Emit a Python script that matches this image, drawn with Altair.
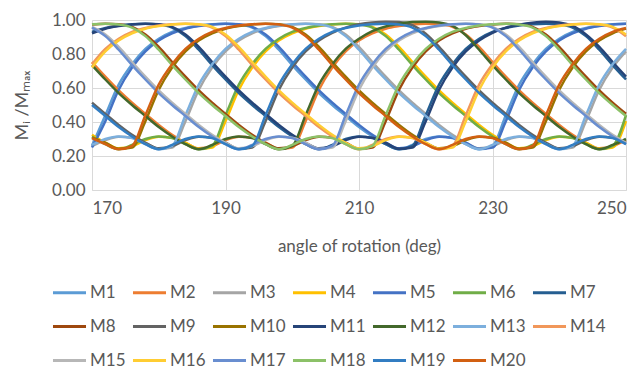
import altair as alt
import pandas as pd

# Sample angles (deg) shared by every series
angles = list(range(170, 252, 2))

series_names = [f"M{i}" for i in range(1, 21)]
series_colors = [
    "#5B9BD5", "#ED7D31", "#A5A5A5", "#FFC000", "#4472C4", "#70AD47", "#255E91",
    "#9E480E", "#636363", "#997300", "#264478", "#43682B", "#7CAFDD", "#F1975A",
    "#B7B7B7", "#FFCD33", "#698ED0", "#8CC168", "#327DC2", "#D26012",
]

# Mi/Mmax for each series at the sample angles
m1 = [0.26, 0.44, 0.62, 0.74, 0.83, 0.89, 0.93, 0.953, 0.967, 0.975, 0.978, 0.973, 0.955, 0.905, 0.825, 0.735, 0.65, 0.57, 0.50, 0.435, 0.37, 0.315, 0.27, 0.24, 0.265, 0.30, 0.315, 0.305, 0.27, 0.24, 0.26, 0.44, 0.62, 0.74, 0.83, 0.89, 0.93, 0.953, 0.967, 0.975, 0.978]
m2 = [0.753, 0.667, 0.586, 0.514, 0.448, 0.383, 0.325, 0.278, 0.245, 0.258, 0.293, 0.313, 0.308, 0.278, 0.242, 0.25, 0.405, 0.59, 0.72, 0.815, 0.88, 0.922, 0.949, 0.964, 0.974, 0.978, 0.975, 0.96, 0.915, 0.842, 0.753, 0.667, 0.586, 0.514, 0.448, 0.383, 0.325, 0.278, 0.245, 0.258, 0.293]
m3 = [0.258, 0.293, 0.313, 0.308, 0.278, 0.242, 0.25, 0.405, 0.59, 0.72, 0.815, 0.88, 0.922, 0.949, 0.964, 0.974, 0.978, 0.975, 0.96, 0.915, 0.842, 0.753, 0.667, 0.586, 0.514, 0.448, 0.383, 0.325, 0.278, 0.245, 0.258, 0.293, 0.313, 0.308, 0.278, 0.242, 0.25, 0.405, 0.59, 0.72, 0.815]
m4 = [0.325, 0.278, 0.245, 0.258, 0.293, 0.313, 0.308, 0.278, 0.242, 0.25, 0.405, 0.59, 0.72, 0.815, 0.88, 0.922, 0.949, 0.964, 0.974, 0.978, 0.975, 0.96, 0.915, 0.842, 0.753, 0.667, 0.586, 0.514, 0.448, 0.383, 0.325, 0.278, 0.245, 0.258, 0.293, 0.313, 0.308, 0.278, 0.242, 0.25, 0.405]
m5 = [0.25, 0.405, 0.59, 0.72, 0.815, 0.88, 0.922, 0.949, 0.964, 0.974, 0.978, 0.975, 0.96, 0.915, 0.842, 0.753, 0.667, 0.586, 0.514, 0.448, 0.383, 0.325, 0.278, 0.245, 0.258, 0.293, 0.313, 0.308, 0.278, 0.242, 0.25, 0.405, 0.59, 0.72, 0.815, 0.88, 0.922, 0.949, 0.964, 0.974, 0.978]
m6 = [0.315, 0.27, 0.24, 0.265, 0.30, 0.315, 0.305, 0.27, 0.24, 0.26, 0.44, 0.62, 0.74, 0.83, 0.89, 0.93, 0.953, 0.967, 0.975, 0.978, 0.973, 0.955, 0.905, 0.825, 0.735, 0.65, 0.57, 0.50, 0.435, 0.37, 0.315, 0.27, 0.24, 0.265, 0.30, 0.315, 0.305, 0.27, 0.24, 0.26, 0.44]
m7 = [0.93, 0.953, 0.967, 0.975, 0.978, 0.973, 0.955, 0.905, 0.825, 0.735, 0.65, 0.57, 0.50, 0.435, 0.37, 0.315, 0.27, 0.24, 0.265, 0.30, 0.315, 0.305, 0.27, 0.24, 0.26, 0.44, 0.62, 0.74, 0.83, 0.89, 0.93, 0.953, 0.967, 0.975, 0.978, 0.973, 0.955, 0.905, 0.825, 0.735, 0.65]
m8 = [0.974, 0.978, 0.975, 0.96, 0.915, 0.842, 0.753, 0.667, 0.586, 0.514, 0.448, 0.383, 0.325, 0.278, 0.245, 0.258, 0.293, 0.313, 0.308, 0.278, 0.242, 0.25, 0.405, 0.59, 0.72, 0.815, 0.88, 0.922, 0.949, 0.964, 0.974, 0.978, 0.975, 0.96, 0.915, 0.842, 0.753, 0.667, 0.586, 0.514, 0.448]
m9 = [0.514, 0.448, 0.383, 0.325, 0.278, 0.245, 0.258, 0.293, 0.313, 0.308, 0.278, 0.242, 0.25, 0.405, 0.59, 0.72, 0.815, 0.88, 0.925, 0.955, 0.975, 0.986, 0.99, 0.988, 0.97, 0.92, 0.842, 0.753, 0.667, 0.586, 0.514, 0.448, 0.383, 0.325, 0.278, 0.245, 0.258, 0.293, 0.313, 0.308, 0.278]
m10 = [0.308, 0.278, 0.242, 0.25, 0.405, 0.59, 0.72, 0.815, 0.88, 0.922, 0.949, 0.964, 0.974, 0.978, 0.975, 0.96, 0.915, 0.842, 0.753, 0.667, 0.586, 0.514, 0.448, 0.383, 0.325, 0.278, 0.245, 0.258, 0.293, 0.313, 0.308, 0.278, 0.242, 0.25, 0.405, 0.59, 0.72, 0.815, 0.88, 0.922, 0.949]
m11 = [0.922, 0.949, 0.964, 0.974, 0.978, 0.975, 0.96, 0.915, 0.842, 0.753, 0.667, 0.586, 0.514, 0.448, 0.383, 0.325, 0.278, 0.245, 0.258, 0.293, 0.313, 0.308, 0.278, 0.242, 0.25, 0.405, 0.59, 0.72, 0.815, 0.88, 0.925, 0.955, 0.972, 0.984, 0.99, 0.985, 0.965, 0.915, 0.842, 0.753, 0.667]
m12 = [0.735, 0.65, 0.57, 0.50, 0.435, 0.37, 0.315, 0.27, 0.24, 0.265, 0.30, 0.315, 0.305, 0.27, 0.24, 0.26, 0.44, 0.62, 0.74, 0.83, 0.89, 0.935, 0.962, 0.978, 0.988, 0.99, 0.985, 0.965, 0.91, 0.825, 0.735, 0.65, 0.57, 0.50, 0.435, 0.37, 0.315, 0.27, 0.24, 0.265, 0.30]
m13 = [0.265, 0.30, 0.315, 0.305, 0.27, 0.24, 0.26, 0.44, 0.62, 0.74, 0.83, 0.89, 0.93, 0.953, 0.967, 0.975, 0.978, 0.973, 0.955, 0.905, 0.825, 0.735, 0.65, 0.57, 0.50, 0.435, 0.37, 0.315, 0.27, 0.24, 0.265, 0.30, 0.315, 0.305, 0.27, 0.24, 0.26, 0.44, 0.62, 0.74, 0.83]
m14 = [0.74, 0.83, 0.89, 0.93, 0.953, 0.967, 0.975, 0.978, 0.973, 0.955, 0.905, 0.825, 0.735, 0.65, 0.57, 0.50, 0.435, 0.37, 0.315, 0.27, 0.24, 0.265, 0.30, 0.315, 0.305, 0.27, 0.24, 0.26, 0.44, 0.62, 0.74, 0.83, 0.89, 0.93, 0.953, 0.967, 0.975, 0.978, 0.973, 0.955, 0.905]
m15 = [0.96, 0.915, 0.842, 0.753, 0.667, 0.586, 0.514, 0.448, 0.383, 0.325, 0.278, 0.245, 0.258, 0.293, 0.313, 0.308, 0.278, 0.242, 0.25, 0.405, 0.59, 0.72, 0.815, 0.88, 0.922, 0.949, 0.964, 0.974, 0.978, 0.975, 0.96, 0.915, 0.842, 0.753, 0.667, 0.586, 0.514, 0.448, 0.383, 0.325, 0.278]
m16 = [0.72, 0.815, 0.88, 0.922, 0.949, 0.964, 0.974, 0.978, 0.975, 0.96, 0.915, 0.842, 0.753, 0.667, 0.586, 0.514, 0.448, 0.383, 0.325, 0.278, 0.245, 0.258, 0.293, 0.313, 0.308, 0.278, 0.242, 0.25, 0.405, 0.59, 0.72, 0.815, 0.88, 0.922, 0.949, 0.964, 0.974, 0.978, 0.975, 0.96, 0.915]
m17 = [0.955, 0.905, 0.825, 0.735, 0.65, 0.57, 0.50, 0.435, 0.37, 0.315, 0.27, 0.24, 0.265, 0.30, 0.315, 0.305, 0.27, 0.24, 0.26, 0.44, 0.62, 0.74, 0.83, 0.89, 0.93, 0.953, 0.967, 0.975, 0.978, 0.973, 0.955, 0.905, 0.825, 0.735, 0.65, 0.57, 0.50, 0.435, 0.37, 0.315, 0.27]
m18 = [0.975, 0.978, 0.973, 0.955, 0.905, 0.825, 0.735, 0.65, 0.57, 0.50, 0.435, 0.37, 0.315, 0.27, 0.24, 0.265, 0.30, 0.315, 0.305, 0.27, 0.24, 0.26, 0.44, 0.62, 0.74, 0.83, 0.89, 0.93, 0.953, 0.967, 0.975, 0.978, 0.973, 0.955, 0.905, 0.825, 0.735, 0.65, 0.57, 0.50, 0.435]
m19 = [0.50, 0.435, 0.37, 0.315, 0.27, 0.24, 0.265, 0.30, 0.315, 0.305, 0.27, 0.24, 0.26, 0.44, 0.62, 0.74, 0.83, 0.89, 0.93, 0.953, 0.967, 0.975, 0.978, 0.973, 0.955, 0.905, 0.825, 0.735, 0.65, 0.57, 0.50, 0.435, 0.37, 0.315, 0.27, 0.24, 0.265, 0.30, 0.315, 0.305, 0.27]
m20 = [0.305, 0.27, 0.24, 0.26, 0.44, 0.62, 0.74, 0.83, 0.89, 0.93, 0.953, 0.967, 0.975, 0.978, 0.973, 0.955, 0.905, 0.825, 0.735, 0.65, 0.57, 0.50, 0.435, 0.37, 0.315, 0.27, 0.24, 0.265, 0.30, 0.315, 0.305, 0.27, 0.24, 0.26, 0.44, 0.62, 0.74, 0.83, 0.89, 0.93, 0.953]

all_series = [m1, m2, m3, m4, m5, m6, m7, m8, m9, m10,
              m11, m12, m13, m14, m15, m16, m17, m18, m19, m20]

rows = []
for idx, (name, vals) in enumerate(zip(series_names, all_series)):
    assert len(vals) == len(angles), name
    for a, v in zip(angles, vals):
        rows.append({"angle": a, "ratio": v, "series": name, "rank": idx})
df = pd.DataFrame(rows)

TEXT = "#595959"
GRID = "#D9D9D9"
FONT = "Lato"

chart = (
    alt.Chart(df)
    .mark_line(interpolate="monotone", strokeWidth=2.5)
    .encode(
        x=alt.X(
            "angle:Q",
            scale=alt.Scale(domain=[170, 250], nice=False, zero=False),
            axis=alt.Axis(
                values=[170, 190, 210, 230, 250],
                title="angle of rotation (deg)",
                labelPadding=10,
                titlePadding=22,
            ),
        ),
        y=alt.Y(
            "ratio:Q",
            scale=alt.Scale(domain=[0, 1], nice=False),
            axis=alt.Axis(
                values=[0, 0.2, 0.4, 0.6, 0.8, 1.0],
                format=".2f",
                title="Mᵢ /Mₘₐₓ",
                labelPadding=7,
                titleX=-70,
                titleY=85,
                titleAngle=270,
                titleAlign="center",
                titleBaseline="middle",
                titleFontSize=18,
                domain=False,
            ),
        ),
        color=alt.Color(
            "series:N",
            scale=alt.Scale(domain=series_names, range=series_colors),
            sort=series_names,
            legend=alt.Legend(
                title=None,
                orient="none",
                legendX=-41,
                legendY=254,
                direction="horizontal",
                columns=7,
                symbolType="stroke",
                symbolSize=1090,
                symbolStrokeWidth=3,
                labelFontSize=17,
                labelColor=TEXT,
                labelFont=FONT,
                labelOffset=2,
                columnPadding=0,
                rowPadding=7,
                padding=0,
            ),
        ),
        order=alt.Order("rank:Q"),
    )
    .properties(
        width=534,
        height=170,
        padding={"left": 92, "top": 20, "right": 16, "bottom": 182},
        autosize=alt.AutoSizeParams(type="none"),
        background="white",
    )
    .configure_view(strokeWidth=0)
    .configure_axis(
        labelFont=FONT,
        titleFont=FONT,
        labelFontSize=17,
        titleFontSize=17,
        labelColor=TEXT,
        titleColor=TEXT,
        titleFontWeight="normal",
        grid=True,
        gridColor=GRID,
        gridWidth=1,
        domainColor=GRID,
        ticks=False,
    )
)

chart.save("out.html", embed_options={"renderer": "svg", "actions": False})
